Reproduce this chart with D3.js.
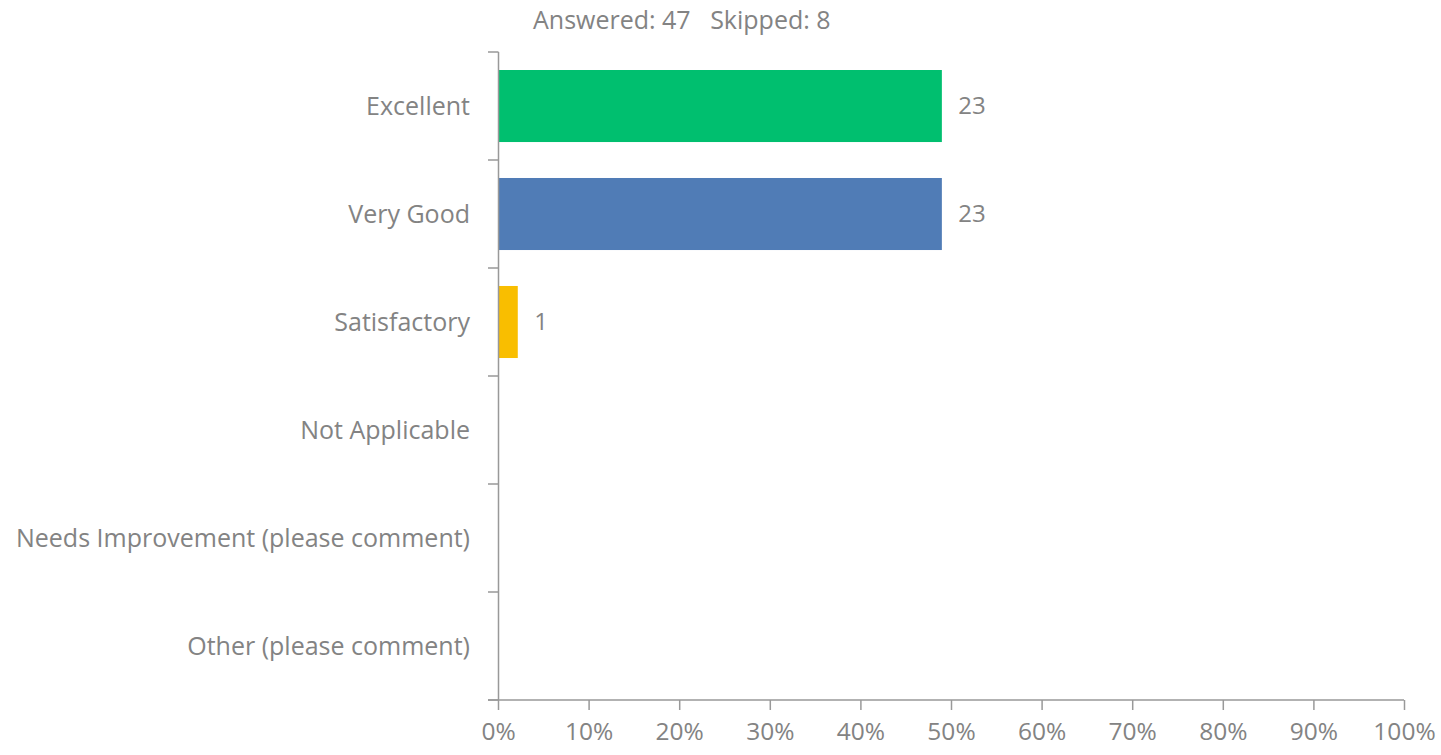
<!DOCTYPE html>
<html>
<head>
<meta charset="utf-8">
<script src="https://cdn.jsdelivr.net/npm/d3@7"></script>
<style>
  body { margin: 0; background: #fff; }
  text { font-family: "Open Sans", "Noto Sans", sans-serif; fill: #838383; }
</style>
</head>
<body>
<svg id="chart" width="1441" height="755"></svg>
<script>
var categories = ["Excellent", "Very Good", "Satisfactory", "Not Applicable",
    "Needs Improvement (please comment)", "Other (please comment)"];
var counts = [23, 23, 1, 0, 0, 0];
var barColors = ["#00bf6f", "#507cb6", "#f9be00", "#6bc8cd", "#ff8b4f", "#7d5ba6"];
var answered = 47;
var skipped = 8;
var tickValues = [0, 0.1, 0.2, 0.3, 0.4, 0.5, 0.6, 0.7, 0.8, 0.9, 1];

var svg = d3.select("#chart");

var margin = {top: 52, left: 498, right: 37, bottom: 55};
var width = 1441 - margin.left - margin.right;
var height = 755 - margin.top - margin.bottom;

var g = svg.append("g")
    .attr("transform", "translate(" + margin.left + "," + margin.top + ")");

var x = d3.scaleLinear().domain([0, 1]).range([0, width]);
var y = d3.scaleBand().domain(categories).range([0, height])
    .paddingInner(0.333).paddingOuter(0.1667);

// bars
g.selectAll("rect.bar")
    .data(categories)
    .enter()
    .append("rect")
    .attr("class", "bar")
    .attr("x", 0.5)
    .attr("y", function(d) { return y(d); })
    .attr("height", y.bandwidth())
    .attr("width", function(d, i) { return x(counts[i] / answered); })
    .attr("fill", function(d, i) { return barColors[i]; });

// value labels
g.selectAll("text.val")
    .data(categories.filter(function(d, i) { return counts[i] > 0; }))
    .enter()
    .append("text")
    .attr("class", "val")
    .attr("x", function(d) { return x(counts[categories.indexOf(d)] / answered) + 17; })
    .attr("y", function(d) { return y(d) + y.bandwidth() / 2; })
    .attr("dy", "0.35em")
    .style("font-size", "24px")
    .text(function(d) { return counts[categories.indexOf(d)]; });

// y axis
var yTickPos = d3.range(categories.length + 1).map(function(i) { return i * height / categories.length; });
g.append("line")
    .attr("x1", 0.5).attr("x2", 0.5)
    .attr("y1", 0).attr("y2", height)
    .attr("stroke", "#999").attr("stroke-width", 1.5);
g.selectAll("line.ytick")
    .data(yTickPos)
    .enter()
    .append("line")
    .attr("class", "ytick")
    .attr("x1", -10).attr("x2", 0.5)
    .attr("y1", function(d) { return d; })
    .attr("y2", function(d) { return d; })
    .attr("stroke", "#999").attr("stroke-width", 1.5);
g.selectAll("text.ylab")
    .data(categories)
    .enter()
    .append("text")
    .attr("class", "ylab")
    .attr("x", -28)
    .attr("y", function(d) { return y(d) + y.bandwidth() / 2; })
    .attr("dy", "0.35em")
    .attr("text-anchor", "end")
    .style("font-size", "25px")
    .text(function(d) { return d; });

// x axis
var xAxis = d3.axisBottom(x)
    .tickValues(tickValues)
    .tickFormat(d3.format(".0%"))
    .tickSize(10)
    .tickSizeOuter(0)
    .tickPadding(13);
var xg = g.append("g")
    .attr("transform", "translate(0," + height + ")")
    .call(xAxis);
xg.select(".domain").attr("stroke", "#999").attr("stroke-width", 1.5)
    .attr("d", "M-10,0H" + width);
xg.selectAll(".tick line").attr("stroke", "#999").attr("stroke-width", 1.5);
xg.selectAll(".tick text")
    .style("font-size", "24.5px")
    .style("font-family", "'Open Sans', 'Noto Sans', sans-serif")
    .attr("fill", "#838383");

// header
svg.append("text")
    .attr("x", 533)
    .attr("y", 29)
    .style("font-size", "25px")
    .attr("xml:space", "preserve")
    .text("Answered: " + answered + "   Skipped: " + skipped);
</script>
</body>
</html>
